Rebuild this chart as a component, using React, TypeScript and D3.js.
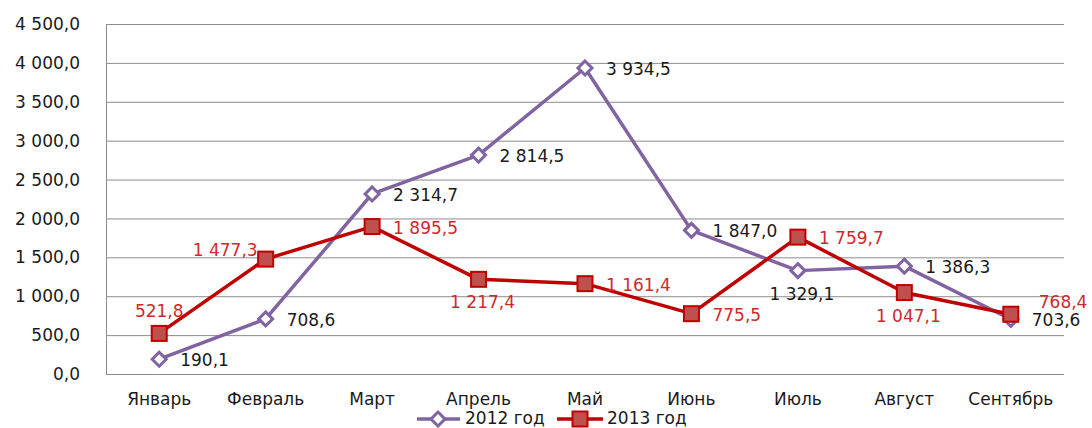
import React from 'react';
import { scaleBand, scaleLinear, line } from 'd3';

const months = ['Январь', 'Февраль', 'Март', 'Апрель', 'Май', 'Июнь', 'Июль', 'Август', 'Сентябрь'];
const values2012 = [190.1, 708.6, 2314.7, 2814.5, 3934.5, 1847.0, 1329.1, 1386.3, 703.6];
const values2013 = [521.8, 1477.3, 1895.5, 1217.4, 1161.4, 775.5, 1759.7, 1047.1, 768.4];
const yTicks = [0, 500, 1000, 1500, 2000, 2500, 3000, 3500, 4000, 4500];

// where each data label sits relative to its point
const place2012 = ['right', 'right', 'right', 'right', 'right', 'right', 'below', 'right', 'right'];
const place2013 = ['above', 'leftAbove', 'right', 'below', 'right', 'right', 'right', 'below', 'rightAbove'];

const W = 1092;
const H = 428;
const left = 106;
const right = 1064;
const top = 24;
const bottom = 374;

const PURPLE = '#8064A2';
const RED = '#C00000';
const RED_FILL = '#C0504D';
const RED_TEXT = '#D0282B';
const TEXT = '#1a1a1a';
const GRID = '#8c8c8c';
const FONT = '"DejaVu Sans", sans-serif';

// "1 234,5" style
const fmt = (v: number) => {
  const [i, d] = v.toFixed(1).split('.');
  return i.replace(/\B(?=(\d{3})+(?!\d))/g, ' ') + ',' + d;
};

const labelAttrs = (pos: string, x: number, y: number) => {
  switch (pos) {
    case 'above':
      return { x, y: y - 23, anchor: 'middle' };
    case 'below':
      return { x: x + 4, y: y + 23, anchor: 'middle' };
    case 'leftAbove':
      return { x: x - 8, y: y - 9, anchor: 'end' };
    case 'rightAbove':
      return { x: x + 28, y: y - 12, anchor: 'start' };
    default:
      return { x: x + 21, y: y + 1, anchor: 'start' };
  }
};

const Diamond = ({ x, y }: { x: number; y: number }) => (
  <path
    d={`M${x},${y - 7}L${x + 7},${y}L${x},${y + 7}L${x - 7},${y}Z`}
    fill="#fff"
    stroke={PURPLE}
    strokeWidth={3}
  />
);

const Square = ({ x, y }: { x: number; y: number }) => (
  <rect x={x - 7.5} y={y - 7.5} width={15} height={15} fill={RED_FILL} stroke={RED} strokeWidth={2} />
);

const App = () => {
  const xScale = scaleBand<string>().domain(months).range([left, right]);
  const cx = (m: string) => (xScale(m) as number) + xScale.bandwidth() / 2;
  const yScale = scaleLinear().domain([0, 4500]).range([bottom, top]);

  const path = line<number>()
    .x((d, i) => cx(months[i]))
    .y(d => yScale(d));

  return (
    <svg
      width={W}
      height={H}
      style={{ position: 'absolute', left: 0, top: 0, background: '#fff' }}
      fontFamily={FONT}
      fontSize={17}
    >
      {/* grid + y axis labels */}
      {yTicks.map(t => (
        <g key={t}>
          <line x1={left} x2={right} y1={yScale(t) + 0.5} y2={yScale(t) + 0.5} stroke={GRID} strokeWidth={1} />
          <text x={80} y={yScale(t)} dy="0.36em" textAnchor="end" fill={TEXT}>
            {fmt(t)}
          </text>
        </g>
      ))}
      <line x1={left + 0.5} x2={left + 0.5} y1={top} y2={bottom + 0.5} stroke={GRID} strokeWidth={1} />

      {/* x axis labels */}
      {months.map(m => (
        <text key={m} x={cx(m)} y={399} dy="0.36em" textAnchor="middle" fill={TEXT}>
          {m}
        </text>
      ))}

      {/* series lines */}
      <path d={path(values2012) || ''} fill="none" stroke={PURPLE} strokeWidth={3.5} strokeLinejoin="round" />
      <path d={path(values2013) || ''} fill="none" stroke={RED} strokeWidth={3.5} strokeLinejoin="round" />

      {values2012.map((v, i) => (
        <Diamond key={'d' + i} x={cx(months[i])} y={yScale(v)} />
      ))}
      {values2013.map((v, i) => (
        <Square key={'s' + i} x={cx(months[i])} y={yScale(v)} />
      ))}

      {/* data labels */}
      {values2012.map((v, i) => {
        const a = labelAttrs(place2012[i], cx(months[i]), yScale(v));
        return (
          <text key={'l12' + i} x={a.x} y={a.y} dy="0.36em" textAnchor={a.anchor} fill={TEXT}>
            {fmt(v)}
          </text>
        );
      })}
      {values2013.map((v, i) => {
        const a = labelAttrs(place2013[i], cx(months[i]), yScale(v));
        return (
          <text key={'l13' + i} x={a.x} y={a.y} dy="0.36em" textAnchor={a.anchor} fill={RED_TEXT}>
            {fmt(v)}
          </text>
        );
      })}

      {/* legend */}
      <g>
        <line x1={417} x2={460} y1={419} y2={419} stroke={PURPLE} strokeWidth={3.5} />
        <Diamond x={438} y={419} />
        <text x={465} y={418} dy="0.36em" fill={TEXT}>2012 год</text>
        <line x1={557} x2={603} y1={419} y2={419} stroke={RED} strokeWidth={3.5} />
        <Square x={580} y={419} />
        <text x={607} y={418} dy="0.36em" fill={TEXT}>2013 год</text>
      </g>
    </svg>
  );
};

export default App;
